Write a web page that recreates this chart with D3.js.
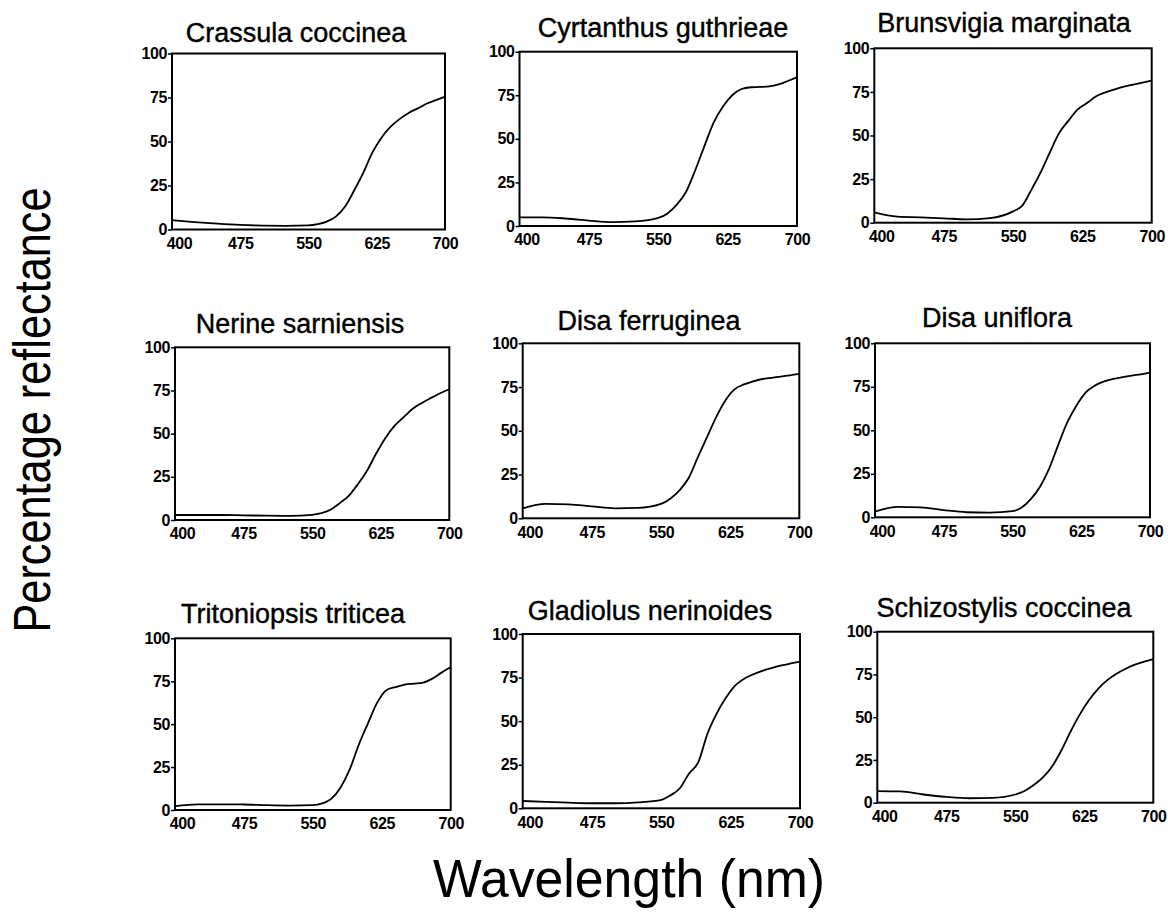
<!DOCTYPE html>
<html>
<head>
<meta charset="utf-8">
<script src="https://cdn.jsdelivr.net/npm/d3@7"></script>
<style>
  html, body { margin: 0; padding: 0; background: #fff; }
  svg { display: block; }
  .tick text { font-family: "Liberation Sans", Arial, sans-serif; font-weight: bold; font-size: 16px; letter-spacing: -0.4px; fill: #000; }
</style>
</head>
<body>
<script>
// ---- DATA ----
const wavelengths = [400,425,450,475,500,525,550,560,570,580,590,600,610,620,630,640,650,660,670,680,690,700];
const xTicks = [400,475,550,625,700];
const yTicks = [0,25,50,75,100];
const speciesNames = [
  "Crassula coccinea", "Cyrtanthus guthrieae", "Brunsvigia marginata",
  "Nerine sarniensis", "Disa ferruginea", "Disa uniflora",
  "Tritoniopsis triticea", "Gladiolus nerinoides", "Schizostylis coccinea"
];
const crassulaCoccinea     = [5.3,4.2,3.3,2.6,2.2,2.1,2.3,3.0,4.5,7.3,12.9,22,32,43.5,52,58.3,62.7,66.2,68.8,71.6,73.5,75.5];
const cyrtanthusGuthrieae  = [5.0,5.0,4.3,3.1,2.2,2.6,4.6,7.2,12.3,19.5,32,46,59.5,68.5,75,78.6,79.6,79.8,80.1,81.2,83.2,85.3];
const brunsvigiaMarginata  = [5.9,3.5,3.1,2.5,1.9,2.6,6.5,9.8,19,29,40.5,51.5,58.5,65,68.6,72.5,74.7,76.5,78,79.2,80.3,81.5];
const nerineSarniensis     = [2.9,2.9,2.9,2.7,2.5,2.4,3.0,4.0,5.9,9.7,14.0,20.7,28.5,38.5,47.4,54.5,59.5,64.4,67.8,70.7,73.4,75.7];
const disaFerruginea       = [5.7,8.2,7.9,6.8,5.7,5.9,8.2,11.2,16,23,35,46.5,58,67.5,73.8,76.5,78.3,79.6,80.3,81,81.7,82.5];
const disaUniflora         = [3.3,6.0,5.7,4.1,2.9,2.7,3.5,5.7,10.5,17.6,28,41.8,54.8,64.4,71.8,75.7,78.1,79.5,80.5,81.4,82.2,83.1];
const tritoniopsisTriticea = [2.3,3.3,3.3,3.2,2.8,2.6,2.8,3.8,6.5,13,23.5,38,50.5,62.5,69.8,71.6,73,73.6,74.2,76.5,80,83.1];
const gladiolusNerinoides  = [4.2,3.7,3.2,2.9,2.9,3.4,4.8,7.5,11.5,20,26.5,43,54.5,63.5,70.5,74.5,77,79,80.6,82,83.1,84.1];
const schizostylisCoccinea = [6.8,6.6,4.8,3.4,2.6,2.8,4.8,6.8,10.3,14.8,21.2,30.5,41.5,51.5,59.9,66.6,71.7,75.4,78.3,80.7,82.5,84];
const seriesValues = [crassulaCoccinea, cyrtanthusGuthrieae, brunsvigiaMarginata,
  nerineSarniensis, disaFerruginea, disaUniflora,
  tritoniopsisTriticea, gladiolusNerinoides, schizostylisCoccinea];
const xTitle = "Wavelength (nm)";
const yTitle = "Percentage reflectance";

// ---- LAYOUT (plot boxes: left, right, top, bottom; title centre x, baseline y) ----
const boxes = [
  [172, 445, 53.5, 229.5], [519.5, 797, 51.7, 226], [874.3, 1151.7, 48.3, 222.7],
  [175, 449.3, 347.3, 520], [522.7, 799.3, 343.3, 518.3], [875, 1150, 343.3, 517.3],
  [175, 450.7, 638.3, 810], [522.7, 800, 634, 808.3], [877.3, 1153.3, 631.7, 802.7]
];
const titleAt = [
  [296, 42], [663, 37], [1004, 32],
  [300, 333], [649, 330], [997, 327],
  [293, 623], [650, 620], [1004, 617]
];

const W = 1168, H = 913;
const svg = d3.select("body").append("svg").attr("width", W).attr("height", H);
const font = '"Liberation Sans", Arial, Helvetica, sans-serif';

speciesNames.forEach((name, i) => {
  const [l, r, t, b] = boxes[i];
  const x = d3.scaleLinear().domain([400, 700]).range([l, r]);
  const y = d3.scaleLinear().domain([0, 100]).range([b, t]);
  const g = svg.append("g");

  // y axis
  const ya = g.append("g").attr("transform", `translate(${l},0)`)
    .call(d3.axisLeft(y).tickValues(yTicks).tickSize(4).tickPadding(1));
  ya.select(".domain").remove();
  ya.selectAll(".tick line").attr("stroke", "#000").attr("stroke-width", 1.5);

  // x axis
  const xa = g.append("g").attr("transform", `translate(0,${b})`)
    .call(d3.axisBottom(x).tickValues(xTicks).tickSize(0).tickPadding(8));
  xa.select(".domain").remove();
  xa.selectAll(".tick text").filter(d => d === 400).attr("dx", 7);

  // frame
  g.append("rect").attr("x", l).attr("y", t).attr("width", r - l).attr("height", b - t)
    .attr("fill", "none").attr("stroke", "#000").attr("stroke-width", 2);

  // curve
  const pts = wavelengths.map((w, k) => [w, seriesValues[i][k]]);
  g.append("path").datum(pts)
    .attr("fill", "none").attr("stroke", "#000").attr("stroke-width", 1.8)
    .attr("d", d3.line().x(d => x(d[0])).y(d => y(d[1])).curve(d3.curveMonotoneX));

  // title
  g.append("text").attr("x", titleAt[i][0]).attr("y", titleAt[i][1])
    .attr("text-anchor", "middle")
    .style("font-family", font).style("font-size", "27px")
    .style("stroke", "#000").style("stroke-width", "0.4px")
    .text(name);
});

// axis titles
svg.append("text")
  .attr("transform", "translate(50,410) rotate(-90)")
  .attr("text-anchor", "middle")
  .attr("textLength", 445).attr("lengthAdjust", "spacingAndGlyphs")
  .style("font-family", font).style("font-size", "52px")
  .text(yTitle);

svg.append("text")
  .attr("x", 629).attr("y", 897)
  .attr("text-anchor", "middle")
  .attr("textLength", 392).attr("lengthAdjust", "spacingAndGlyphs")
  .style("font-family", font).style("font-size", "54px")
  .text(xTitle);
</script>
</body>
</html>
